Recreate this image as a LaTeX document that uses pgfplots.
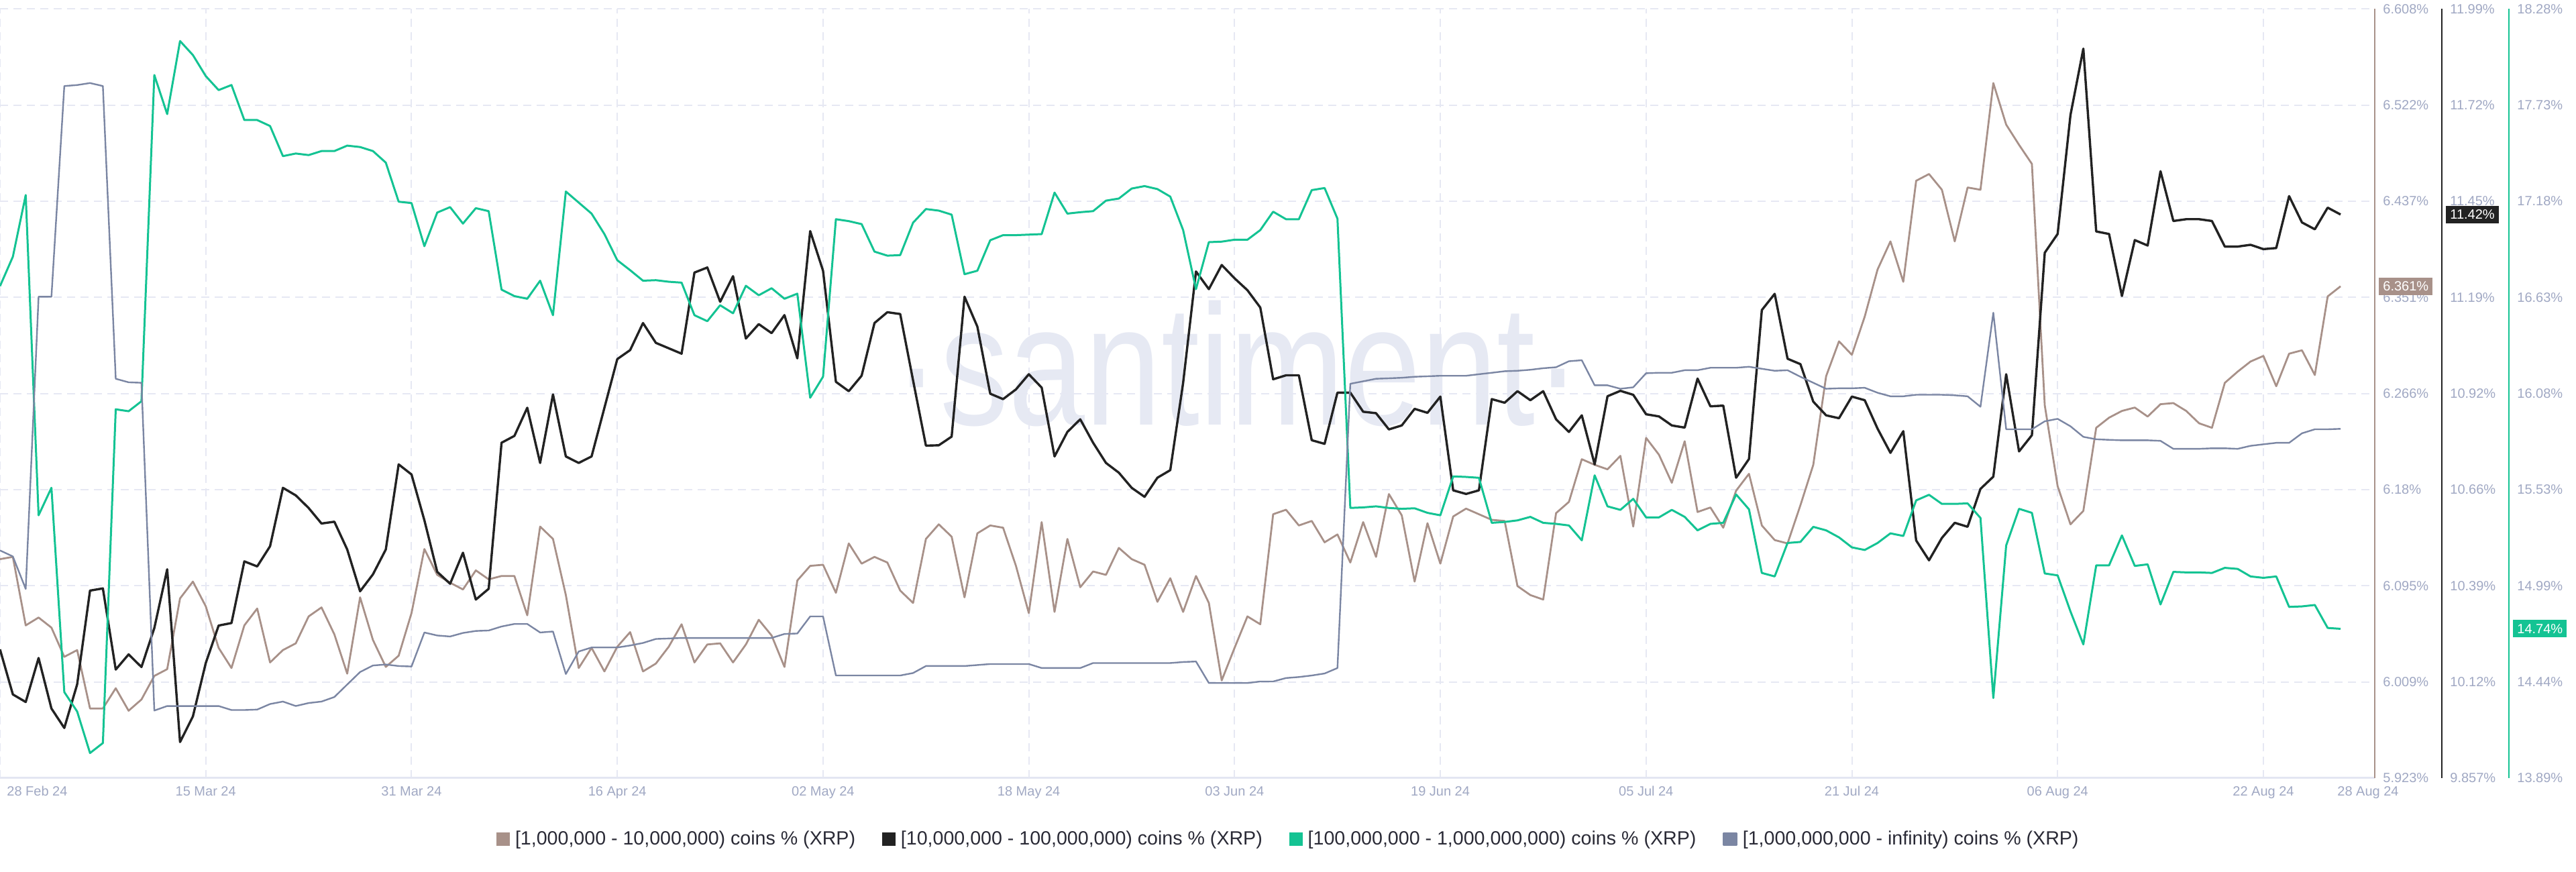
\documentclass[border=0pt]{standalone}
\usepackage{pgfplots}
\pgfplotsset{compat=1.18}
\usepackage{pgfplotstable}
\usepackage{graphicx}
\usepackage{fontspec}
\setmainfont{Liberation Sans}
\definecolor{cbrown}{HTML}{A89189}
\definecolor{cblack}{HTML}{222222}
\definecolor{cgreen}{HTML}{14C393}
\definecolor{cgray}{HTML}{7B86A3}
\definecolor{labc}{HTML}{A0A8C3}
\definecolor{gridc}{HTML}{E6E8F3}
\definecolor{axc}{HTML}{E3E6F2}
\definecolor{wmc}{HTML}{E6E9F3}
\definecolor{legc}{HTML}{2A2A36}

\pgfplotstableread{
d br bk gr gy
0 6.118 10.214 16.698 29.60
1 6.120 10.089 16.866 28.82
2 6.059 10.068 17.218 24.59
3 6.066 10.190 15.390 62.59
4 6.057 10.050 15.547 62.59
5 6.031 9.996 14.381 89.98
6 6.037 10.117 14.270 90.11
7 5.985 10.377 14.033 90.37
8 5.985 10.383 14.090 89.98
9 6.003 10.158 15.995 51.92
10 5.983 10.200 15.984 51.46
11 5.993 10.165 16.041 51.40
12 6.014 10.273 17.903 8.78
13 6.020 10.436 17.680 9.37
14 6.083 9.957 18.097 9.37
15 6.098 10.028 18.017 9.37
16 6.076 10.176 17.897 9.37
17 6.039 10.280 17.817 9.37
18 6.021 10.287 17.846 8.85
19 6.059 10.458 17.646 8.85
20 6.074 10.444 17.646 8.91
21 6.026 10.500 17.612 9.63
22 6.037 10.662 17.440 9.95
23 6.043 10.641 17.455 9.37
24 6.067 10.606 17.446 9.76
25 6.075 10.563 17.469 9.95
26 6.051 10.568 17.469 10.54
27 6.016 10.491 17.500 12.17
28 6.084 10.375 17.492 13.79
29 6.046 10.422 17.469 14.64
30 6.022 10.491 17.403 14.77
31 6.032 10.727 17.180 14.57
32 6.070 10.699 17.172 14.51
33 6.127 10.572 16.926 18.93
34 6.104 10.429 17.118 18.54
35 6.097 10.396 17.149 18.41
36 6.091 10.482 17.055 18.87
37 6.108 10.352 17.143 19.13
38 6.100 10.382 17.126 19.19
39 6.103 10.787 16.678 19.71
40 6.103 10.806 16.641 20.04
41 6.068 10.884 16.626 20.04
42 6.147 10.731 16.729 18.93
43 6.136 10.921 16.532 19.06
44 6.086 10.749 17.238 13.53
45 6.021 10.731 17.175 16.46
46 6.039 10.749 17.112 16.98
47 6.018 10.884 16.995 16.98
48 6.040 11.019 16.846 16.98
49 6.053 11.044 16.789 17.24
50 6.018 11.119 16.729 17.57
51 6.025 11.064 16.732 18.09
52 6.040 11.049 16.723 18.15
53 6.060 11.034 16.718 18.22
54 6.026 11.259 16.532 18.22
55 6.042 11.273 16.498 18.22
56 6.043 11.178 16.589 18.22
57 6.026 11.249 16.543 18.22
58 6.042 11.076 16.700 18.22
59 6.064 11.116 16.646 18.22
60 6.050 11.091 16.686 18.22
61 6.022 11.141 16.626 18.74
62 6.099 11.021 16.655 18.80
63 6.112 11.374 16.061 21.02
64 6.113 11.264 16.181 21.02
65 6.088 10.956 17.080 13.34
66 6.132 10.930 17.069 13.34
67 6.114 10.973 17.052 13.34
68 6.120 11.119 16.895 13.34
69 6.115 11.149 16.872 13.34
70 6.090 11.144 16.875 13.34
71 6.079 10.960 17.060 13.66
72 6.136 10.779 17.138 14.57
73 6.149 10.780 17.129 14.57
74 6.138 10.804 17.106 14.57
75 6.084 11.192 16.766 14.57
76 6.141 11.109 16.786 14.70
77 6.148 10.923 16.960 14.83
78 6.146 10.908 16.989 14.83
79 6.112 10.935 16.989 14.83
80 6.070 10.977 16.992 14.83
81 6.151 10.940 16.995 14.31
82 6.071 10.749 17.232 14.31
83 6.136 10.817 17.112 14.31
84 6.093 10.852 17.120 14.31
85 6.107 10.787 17.126 14.96
86 6.104 10.731 17.186 14.96
87 6.128 10.704 17.198 14.96
88 6.118 10.662 17.255 14.96
89 6.113 10.637 17.269 14.96
90 6.080 10.690 17.252 14.96
91 6.101 10.711 17.209 14.96
92 6.071 10.953 17.018 15.09
93 6.103 11.262 16.681 15.16
94 6.079 11.213 16.949 12.36
95 6.010 11.280 16.952 12.36
96 6.039 11.243 16.963 12.36
97 6.067 11.210 16.963 12.36
98 6.060 11.162 17.018 12.56
99 6.158 10.963 17.123 12.56
100 6.162 10.974 17.080 13.01
101 6.148 10.974 17.080 13.14
102 6.152 10.794 17.246 13.34
103 6.133 10.784 17.258 13.60
104 6.140 10.926 17.083 14.31
105 6.115 10.926 15.432 51.27
106 6.151 10.873 15.435 51.59
107 6.120 10.869 15.441 51.92
108 6.176 10.824 15.432 51.98
109 6.157 10.835 15.427 52.05
110 6.098 10.881 15.430 52.18
111 6.150 10.870 15.404 52.24
112 6.114 10.915 15.390 52.31
113 6.156 10.655 15.612 52.31
114 6.163 10.645 15.609 52.31
115 6.158 10.655 15.604 52.51
116 6.153 10.908 15.347 52.70
117 6.152 10.898 15.352 52.90
118 6.094 10.930 15.361 52.96
119 6.086 10.905 15.381 53.09
120 6.082 10.930 15.347 53.29
121 6.159 10.852 15.341 53.42
122 6.169 10.817 15.332 54.20
123 6.207 10.863 15.247 54.33
124 6.202 10.727 15.618 51.07
125 6.198 10.916 15.441 51.07
126 6.210 10.931 15.421 50.62
127 6.147 10.920 15.484 50.81
128 6.226 10.866 15.378 52.64
129 6.211 10.860 15.378 52.70
130 6.186 10.835 15.421 52.70
131 6.223 10.829 15.381 53.03
132 6.160 10.965 15.304 53.03
133 6.164 10.888 15.341 53.35
134 6.146 10.890 15.347 53.35
135 6.179 10.690 15.509 53.35
136 6.194 10.742 15.424 53.48
137 6.148 11.155 15.061 53.22
138 6.135 11.200 15.041 52.96
139 6.132 11.020 15.232 53.03
140 6.166 11.005 15.238 52.18
141 6.202 10.901 15.324 51.40
142 6.281 10.863 15.304 50.62
143 6.312 10.855 15.264 50.68
144 6.300 10.915 15.207 50.68
145 6.334 10.905 15.192 50.75
146 6.376 10.826 15.232 50.10
147 6.401 10.759 15.287 49.64
148 6.365 10.819 15.272 49.64
149 6.455 10.516 15.475 49.84
150 6.461 10.461 15.507 49.84
151 6.447 10.523 15.455 49.84
152 6.401 10.565 15.455 49.77
153 6.449 10.554 15.458 49.64
154 6.447 10.659 15.375 48.28
155 6.542 10.693 14.347 60.51
156 6.505 10.977 15.218 45.35
157 6.487 10.763 15.427 45.35
158 6.470 10.808 15.404 45.35
159 6.255 11.314 15.058 46.39
160 6.183 11.366 15.047 46.71
161 6.149 11.696 14.841 45.74
162 6.161 11.880 14.653 44.37
163 6.235 11.373 15.104 44.05
164 6.244 11.366 15.104 43.98
165 6.250 11.194 15.275 43.92
166 6.253 11.349 15.101 43.92
167 6.245 11.334 15.110 43.92
168 6.256 11.540 14.881 43.85
169 6.257 11.402 15.067 42.81
170 6.250 11.407 15.064 42.81
171 6.239 11.407 15.064 42.81
172 6.235 11.402 15.061 42.88
173 6.275 11.331 15.090 42.88
174 6.285 11.331 15.084 42.81
175 6.294 11.336 15.041 43.20
176 6.299 11.324 15.033 43.40
177 6.272 11.327 15.041 43.59
178 6.301 11.471 14.867 43.59
179 6.304 11.398 14.870 44.83
180 6.282 11.379 14.878 45.35
181 6.352 11.439 14.747 45.35
182 6.361 11.420 14.742 45.41
}\data

\newcommand{\tfont}{\fontsize{10}{12}\selectfont}
\pgfplotsset{
  base/.style={
    at={(0pt,70pt)}, anchor=south west,
    scale only axis, width=1770pt, height=573.3pt,
    xmin=0, xmax=184.66,
    major tick length=0pt,
    tick label style={font=\tfont, text=labc},
    yticklabel style={anchor=west, inner sep=0pt},
    clip=false,
  },
}
\begin{document}
\begin{tikzpicture}
\useasboundingbox (0,0) rectangle (1920pt,650pt);
\node[anchor=base, inner sep=0pt, text=wmc] at (922.5pt,333pt) {\scalebox{0.8}[1]{\fontsize{128}{128}\selectfont ·santiment·}};
% brown axis
\begin{axis}[base,
  ymin=5.923, ymax=6.608,
  axis x line*=bottom, axis y line*=right,
  x axis line style={draw=axc, line width=1.5pt},
  y axis line style={draw=cbrown, line width=1pt},
  xtick={0,16,...,176},
  xticklabels={,15 Mar 24,31 Mar 24,16 Apr 24,02 May 24,18 May 24,03 Jun 24,19 Jun 24,05 Jul 24,21 Jul 24,06 Aug 24,22 Aug 24},
  xticklabel style={inner sep=0pt, yshift=-6pt},
  ytick={5.923,6.008625,6.09425,6.179875,6.2655,6.351125,6.43675,6.522375,6.608},
  yticklabels={5.923\%,6.009\%,6.095\%,6.18\%,6.266\%,6.351\%,6.437\%,6.522\%,6.608\%},
  yticklabel style={xshift=6pt},
  xmajorgrids, ymajorgrids,
  grid style={draw=gridc, line width=1pt, dash pattern=on 6pt off 4pt},
]
\addplot[cbrown, line width=1.4pt, line join=round] table[x=d,y=br]{\data};
\coordinate (vb) at (axis cs:184.66,6.361);
\node[anchor=north west, inner sep=0pt, font=\tfont, text=labc] at ([xshift=5pt,yshift=-6pt]rel axis cs:0,0) {28 Feb 24};
\node[anchor=north, inner sep=0pt, font=\tfont, text=labc] at ([xshift=-5pt,yshift=-6pt]rel axis cs:1,0) {28 Aug 24};
\end{axis}
% black axis
\begin{axis}[base,
  ymin=9.857, ymax=11.99,
  axis x line=none, axis y line*=right,
  y axis line style={draw=none},
  ytick={9.857,10.123625,10.39025,10.656875,10.9235,11.190125,11.45675,11.723375,11.99},
  yticklabels={9.857\%,10.12\%,10.39\%,10.66\%,10.92\%,11.19\%,11.45\%,11.72\%,11.99\%},
  yticklabel style={xshift=56pt},
]
\addplot[cblack, line width=1.7pt, line join=round] table[x=d,y=bk]{\data};
\draw[cblack, line width=1pt] ([xshift=50pt]rel axis cs:1,0) -- ([xshift=50pt]rel axis cs:1,1);
\coordinate (vk) at (axis cs:184.66,11.42);
\end{axis}
% green axis
\begin{axis}[base,
  ymin=13.89, ymax=18.28,
  axis x line=none, axis y line*=right,
  y axis line style={draw=none},
  ytick={13.89,14.43875,14.9875,15.53625,16.085,16.63375,17.1825,17.73125,18.28},
  yticklabels={13.89\%,14.44\%,14.99\%,15.53\%,16.08\%,16.63\%,17.18\%,17.73\%,18.28\%},
  yticklabel style={xshift=106pt},
]
\addplot[cgreen, line width=1.5pt, line join=round] table[x=d,y=gr]{\data};
\draw[cgreen, line width=1pt] ([xshift=100pt]rel axis cs:1,0) -- ([xshift=100pt]rel axis cs:1,1);
\coordinate (vg) at (axis cs:184.66,14.742);
\end{axis}
% gray axis (hidden scale)
\begin{axis}[base,
  ymin=0, ymax=100, hide axis,
  legend columns=4,
  legend style={at={(0.5422,-0.0794)}, anchor=center, draw=none, fill=none,
    font=\fontsize{14.3}{16}\selectfont, text=legc,
    nodes={inner sep=0pt},
    /tikz/every odd column/.append style={column sep=4pt},
    /tikz/every even column/.append style={column sep=20pt}},
  legend image code/.code={\fill[#1] (0pt,-4.6pt) rectangle (9.5pt,4.6pt);},
]
\addlegendimage{cbrown}
\addlegendimage{cblack}
\addlegendimage{cgreen}
\addplot[cgray, line width=1.2pt, line join=round] table[x=d,y=gy]{\data};
\addlegendentry{\lbrack 1,000,000 - 10,000,000) coins \% (XRP)}
\addlegendentry{\lbrack 10,000,000 - 100,000,000) coins \% (XRP)}
\addlegendentry{\lbrack 100,000,000 - 1,000,000,000) coins \% (XRP)}
\addlegendentry{\lbrack 1,000,000,000 - infinity) coins \% (XRP)}
\end{axis}
\node[anchor=west, fill=cbrown, text=white, inner xsep=3pt, inner ysep=0pt, minimum height=13pt, font=\tfont] at ([xshift=3pt]vb) {6.361\%};
\node[anchor=west, fill=cblack, text=white, inner xsep=3pt, inner ysep=0pt, minimum height=13pt, font=\tfont] at ([xshift=53pt]vk) {11.42\%};
\node[anchor=west, fill=cgreen, text=white, inner xsep=3pt, inner ysep=0pt, minimum height=13pt, font=\tfont] at ([xshift=103pt]vg) {14.74\%};
\end{tikzpicture}
\end{document}
